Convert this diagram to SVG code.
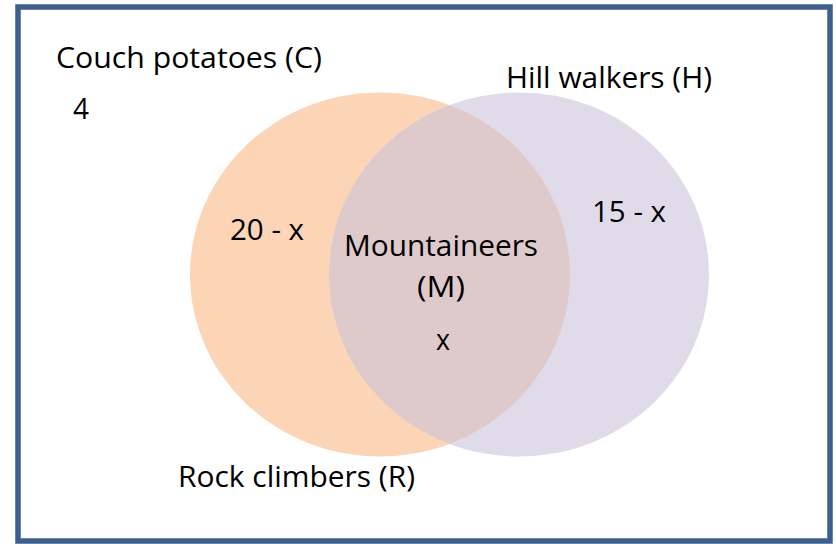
<svg xmlns="http://www.w3.org/2000/svg" width="836" height="544" viewBox="0 0 836 544">
<style>
text{font-family:"Open Sans","Liberation Sans",sans-serif;font-size:29.5px;fill:#000}
</style>
<defs>
<clipPath id="clipH"><ellipse cx="519" cy="274.5" rx="190" ry="182"/></clipPath>
</defs>
<rect x="0" y="0" width="836" height="544" fill="#fff"/>
<rect id="frame" x="18" y="7" width="812" height="534" fill="#fff" stroke="#3D5F8E" stroke-width="5.5"/>
<g id="R">
<ellipse cx="380" cy="274.5" rx="190" ry="182" fill="#FBD5B5"/>
</g>
<g id="H">
<ellipse cx="519" cy="274.5" rx="190" ry="182" fill="#DFDBE9"/>
</g>
<g id="M">
<ellipse cx="380" cy="274.5" rx="190" ry="182" fill="#DFCACB" clip-path="url(#clipH)"/>
</g>
<g id="connectors"></g>
<g id="labels">
<text x="56" y="68" textLength="266" lengthAdjust="spacingAndGlyphs">Couch potatoes (C)</text>
<text x="73" y="119" textLength="16" lengthAdjust="spacingAndGlyphs">4</text>
<text x="506" y="88" textLength="206" lengthAdjust="spacingAndGlyphs">Hill walkers (H)</text>
<text x="230" y="240" textLength="74" lengthAdjust="spacingAndGlyphs">20 - x</text>
<text x="592" y="222" textLength="74" lengthAdjust="spacingAndGlyphs">15 - x</text>
<text x="344" y="256" textLength="194" lengthAdjust="spacingAndGlyphs">Mountaineers</text>
<text x="417" y="297" textLength="48" lengthAdjust="spacingAndGlyphs">(M)</text>
<text x="436" y="350" textLength="14" lengthAdjust="spacingAndGlyphs">x</text>
<text x="178" y="487" textLength="237" lengthAdjust="spacingAndGlyphs">Rock climbers (R)</text>
</g>
</svg>
